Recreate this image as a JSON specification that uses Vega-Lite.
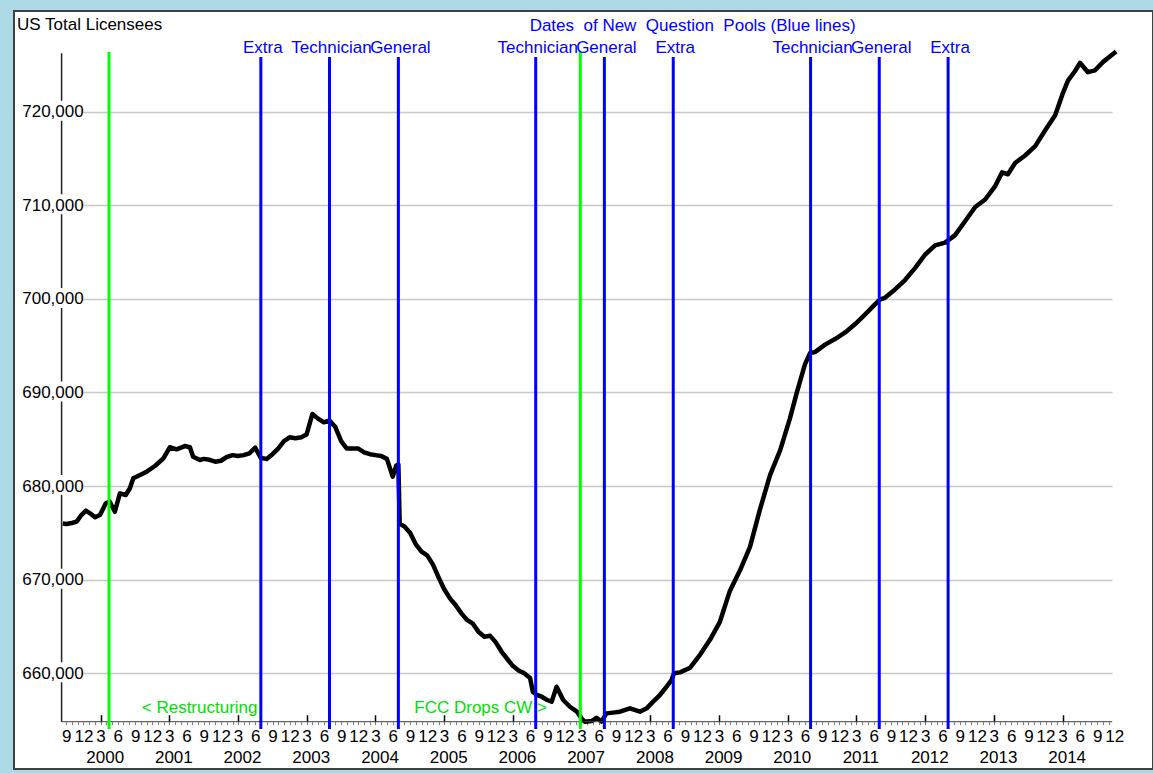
{
  "$schema": "https://vega.github.io/schema/vega-lite/v6.json",
  "width": 1139,
  "height": 758,
  "autosize": {"type": "none"},
  "padding": {"left": 14, "top": 11, "right": 0, "bottom": 4},
  "background": "#add8e6",
  "config": {
    "view": {"fill": "#ffffff", "stroke": "#404040", "strokeWidth": 2},
    "font": "Liberation Sans",
    "axis": {"labelFont": "Liberation Sans", "labelFontSize": 17, "labelColor": "#000000", "domain": false, "grid": false, "title": null}
  },
  "datasets": {
    "licensees": [
      {"date": "1999-08-13", "value": 676000},
      {"date": "1999-09-01", "value": 675950},
      {"date": "1999-10-01", "value": 676050},
      {"date": "1999-10-26", "value": 676200},
      {"date": "1999-11-20", "value": 676900},
      {"date": "1999-12-14", "value": 677370},
      {"date": "2000-01-05", "value": 677090},
      {"date": "2000-02-01", "value": 676660},
      {"date": "2000-02-27", "value": 676900},
      {"date": "2000-03-29", "value": 678160},
      {"date": "2000-04-19", "value": 678330},
      {"date": "2000-05-16", "value": 677260},
      {"date": "2000-06-12", "value": 679220},
      {"date": "2000-07-13", "value": 679040},
      {"date": "2000-08-04", "value": 679760},
      {"date": "2000-08-22", "value": 680830},
      {"date": "2000-09-27", "value": 681180},
      {"date": "2000-11-01", "value": 681530},
      {"date": "2000-12-15", "value": 682140},
      {"date": "2001-01-29", "value": 682960},
      {"date": "2001-03-04", "value": 684140},
      {"date": "2001-04-09", "value": 683920},
      {"date": "2001-05-23", "value": 684270},
      {"date": "2001-06-19", "value": 684140},
      {"date": "2001-07-06", "value": 683130},
      {"date": "2001-08-11", "value": 682780},
      {"date": "2001-09-01", "value": 682900},
      {"date": "2001-10-01", "value": 682800},
      {"date": "2001-11-01", "value": 682600},
      {"date": "2001-12-01", "value": 682700},
      {"date": "2002-01-01", "value": 683100},
      {"date": "2002-02-01", "value": 683300},
      {"date": "2002-03-01", "value": 683200},
      {"date": "2002-04-01", "value": 683300},
      {"date": "2002-05-01", "value": 683500},
      {"date": "2002-06-01", "value": 684100},
      {"date": "2002-07-01", "value": 683000},
      {"date": "2002-08-01", "value": 682900},
      {"date": "2002-09-01", "value": 683400},
      {"date": "2002-10-01", "value": 684000},
      {"date": "2002-11-01", "value": 684800},
      {"date": "2002-12-01", "value": 685200},
      {"date": "2003-01-01", "value": 685100},
      {"date": "2003-02-01", "value": 685200},
      {"date": "2003-03-01", "value": 685500},
      {"date": "2003-04-01", "value": 687700},
      {"date": "2003-05-01", "value": 687200},
      {"date": "2003-06-01", "value": 686800},
      {"date": "2003-07-01", "value": 687000},
      {"date": "2003-08-01", "value": 686300},
      {"date": "2003-09-01", "value": 684800},
      {"date": "2003-10-01", "value": 684000},
      {"date": "2003-11-01", "value": 684000},
      {"date": "2003-12-01", "value": 684000},
      {"date": "2004-01-01", "value": 683600},
      {"date": "2004-02-01", "value": 683400},
      {"date": "2004-03-01", "value": 683300},
      {"date": "2004-04-01", "value": 683200},
      {"date": "2004-05-01", "value": 682900},
      {"date": "2004-06-01", "value": 681000},
      {"date": "2004-06-20", "value": 682200},
      {"date": "2004-07-01", "value": 682300},
      {"date": "2004-07-08", "value": 676000},
      {"date": "2004-08-01", "value": 675700},
      {"date": "2004-09-01", "value": 675000},
      {"date": "2004-10-01", "value": 673800},
      {"date": "2004-11-01", "value": 673000},
      {"date": "2004-12-01", "value": 672600},
      {"date": "2005-01-01", "value": 671600},
      {"date": "2005-02-01", "value": 670200},
      {"date": "2005-03-01", "value": 669000},
      {"date": "2005-04-01", "value": 668000},
      {"date": "2005-05-01", "value": 667300},
      {"date": "2005-06-01", "value": 666400},
      {"date": "2005-07-01", "value": 665700},
      {"date": "2005-08-01", "value": 665300},
      {"date": "2005-09-01", "value": 664400},
      {"date": "2005-10-01", "value": 663900},
      {"date": "2005-11-01", "value": 664000},
      {"date": "2005-12-01", "value": 663300},
      {"date": "2006-01-01", "value": 662300},
      {"date": "2006-02-01", "value": 661500},
      {"date": "2006-03-01", "value": 660800},
      {"date": "2006-04-01", "value": 660300},
      {"date": "2006-05-01", "value": 660000},
      {"date": "2006-06-01", "value": 659500},
      {"date": "2006-06-16", "value": 658000},
      {"date": "2006-07-07", "value": 657700},
      {"date": "2006-08-02", "value": 657500},
      {"date": "2006-08-31", "value": 657150},
      {"date": "2006-09-24", "value": 656970},
      {"date": "2006-10-20", "value": 658570},
      {"date": "2006-11-24", "value": 657150},
      {"date": "2006-12-30", "value": 656430},
      {"date": "2007-02-05", "value": 655900},
      {"date": "2007-03-01", "value": 655200},
      {"date": "2007-03-19", "value": 654830},
      {"date": "2007-04-24", "value": 654900},
      {"date": "2007-05-20", "value": 655250},
      {"date": "2007-06-16", "value": 654850},
      {"date": "2007-07-12", "value": 655720},
      {"date": "2007-08-15", "value": 655800},
      {"date": "2007-09-22", "value": 655900},
      {"date": "2007-11-14", "value": 656260},
      {"date": "2008-01-06", "value": 655900},
      {"date": "2008-02-11", "value": 656260},
      {"date": "2008-03-16", "value": 656970},
      {"date": "2008-04-21", "value": 657680},
      {"date": "2008-05-27", "value": 658570},
      {"date": "2008-06-22", "value": 659280},
      {"date": "2008-07-05", "value": 660000},
      {"date": "2008-08-06", "value": 660100},
      {"date": "2008-09-29", "value": 660600},
      {"date": "2008-11-21", "value": 662000},
      {"date": "2009-01-13", "value": 663600},
      {"date": "2009-03-06", "value": 665500},
      {"date": "2009-04-28", "value": 668800},
      {"date": "2009-06-21", "value": 671000},
      {"date": "2009-08-13", "value": 673500},
      {"date": "2009-10-05", "value": 677500},
      {"date": "2009-11-28", "value": 681200},
      {"date": "2010-01-20", "value": 683800},
      {"date": "2010-03-13", "value": 687200},
      {"date": "2010-04-19", "value": 690000},
      {"date": "2010-06-01", "value": 693000},
      {"date": "2010-06-28", "value": 694200},
      {"date": "2010-07-24", "value": 694300},
      {"date": "2010-09-16", "value": 695100},
      {"date": "2010-11-08", "value": 695700},
      {"date": "2011-01-01", "value": 696400},
      {"date": "2011-02-23", "value": 697300},
      {"date": "2011-04-16", "value": 698300},
      {"date": "2011-06-08", "value": 699400},
      {"date": "2011-07-04", "value": 699900},
      {"date": "2011-07-31", "value": 700100},
      {"date": "2011-09-23", "value": 701000},
      {"date": "2011-11-15", "value": 702000},
      {"date": "2012-01-08", "value": 703300},
      {"date": "2012-02-29", "value": 704700},
      {"date": "2012-04-23", "value": 705700},
      {"date": "2012-06-15", "value": 706000},
      {"date": "2012-08-07", "value": 706800},
      {"date": "2012-09-30", "value": 708300},
      {"date": "2012-11-22", "value": 709800},
      {"date": "2013-01-14", "value": 710600},
      {"date": "2013-03-07", "value": 712000},
      {"date": "2013-04-14", "value": 713500},
      {"date": "2013-05-15", "value": 713300},
      {"date": "2013-06-22", "value": 714500},
      {"date": "2013-08-14", "value": 715300},
      {"date": "2013-10-07", "value": 716300},
      {"date": "2013-11-29", "value": 718000},
      {"date": "2014-01-21", "value": 719600},
      {"date": "2014-02-28", "value": 721800},
      {"date": "2014-03-30", "value": 723300},
      {"date": "2014-05-06", "value": 724300},
      {"date": "2014-06-02", "value": 725200},
      {"date": "2014-07-14", "value": 724200},
      {"date": "2014-08-21", "value": 724400},
      {"date": "2014-10-03", "value": 725300},
      {"date": "2014-12-11", "value": 726400}
    ],
    "pools": [
      {"date": "2002-07-01", "pool": "Extra"},
      {"date": "2003-07-01", "pool": "Technician"},
      {"date": "2004-07-01", "pool": "General"},
      {"date": "2006-07-01", "pool": "Technician"},
      {"date": "2007-07-01", "pool": "General"},
      {"date": "2008-07-01", "pool": "Extra"},
      {"date": "2010-07-01", "pool": "Technician"},
      {"date": "2011-07-01", "pool": "General"},
      {"date": "2012-07-01", "pool": "Extra"}
    ],
    "events": [
      {"date": "2000-04-15", "event": "Restructuring"},
      {"date": "2007-02-23", "event": "FCC Drops CW"}
    ]
  },
  "resolve": {"axis": {"x": "independent", "y": "independent"}},
  "layer": [
    {
      "data": {"name": "licensees"},
      "mark": {"type": "line", "color": "#000000", "strokeWidth": 4.5, "strokeJoin": "round"},
      "encoding": {
        "x": {
          "field": "date", "type": "temporal",
          "scale": {"domain": [{"year": 1998, "month": 11, "date": 27}, {"year": 2015, "month": 6, "date": 25}], "nice": false},
          "axis": {
            "orient": "bottom", "offset": -47.3, "title": null,
            "tickCount": {"interval": "month", "step": 1},
            "ticks": true, "tickSize": 3, "tickColor": "#808080", "tickWidth": 1,
            "tickOpacity": {"condition": {"test": "datum.value < datetime(1999, 7, 15) || datum.value > datetime(2014, 10, 25)", "value": 0}, "value": 1},
            "labelExpr": "(month(datum.value) % 3 == 2) && datum.value > datetime(1999, 7, 15) && datum.value < datetime(2014, 11, 15) ? '' + (month(datum.value) + 1) : ''",
            "labelPadding": 4, "labelOverlap": false, "labelFlush": false, "labelBound": false,
            "domain": false, "grid": false
          }
        },
        "y": {
          "field": "value", "type": "quantitative",
          "scale": {"domain": [649779, 730734], "zero": false, "nice": false},
          "axis": {
            "orient": "left", "title": null,
            "values": [660000, 670000, 680000, 690000, 700000, 710000, 720000],
            "format": ",.0f", "labelPadding": -69.2, "labelAlign": "right", "labelBaseline": "middle",
            "labelOverlap": false, "labelBound": false,
            "ticks": false, "domain": false,
            "grid": true, "gridColor": "#c8c8c8", "gridWidth": 1.5, "gridDash": [0, 69, 1029, 100]
          }
        }
      }
    },
    {
      "data": {"values": [{}]},
      "mark": {"type": "rule", "color": "#404040", "strokeWidth": 1},
      "encoding": {
        "x": {"datum": {"year": 1999, "month": 8, "date": 7}, "type": "temporal", "axis": null},
        "x2": {"datum": {"year": 2014, "month": 11, "date": 20}},
        "y": {"datum": 654831, "type": "quantitative", "axis": null}
      }
    },
    {
      "data": {"values": [{}]},
      "mark": {"type": "rule", "color": "#202020", "strokeWidth": 1.5, "strokeDash": [39.4, 20, 73.6, 20, 73.6, 20, 73.6, 20, 73.6, 20, 73.6, 20, 73.6, 20, 47.5, 50]},
      "encoding": {
        "x": {"datum": {"year": 1999, "month": 8, "date": 7}, "type": "temporal", "axis": null},
        "y": {"datum": 654831, "type": "quantitative", "axis": null},
        "y2": {"datum": 726248}
      }
    },
    {
      "data": {"name": "events"},
      "mark": {"type": "rule", "color": "#00ff00", "strokeWidth": 3},
      "encoding": {
        "x": {
          "field": "date", "type": "temporal",
          "axis": {
            "orient": "bottom", "offset": -47.3, "title": null,
            "values": [
              {"year": 2000, "month": 3, "date": 1}, {"year": 2001, "month": 3, "date": 1}, {"year": 2002, "month": 3, "date": 1},
              {"year": 2003, "month": 3, "date": 1}, {"year": 2004, "month": 3, "date": 1}, {"year": 2005, "month": 3, "date": 1},
              {"year": 2006, "month": 3, "date": 1}, {"year": 2007, "month": 3, "date": 1}, {"year": 2008, "month": 3, "date": 1},
              {"year": 2009, "month": 3, "date": 1}, {"year": 2010, "month": 3, "date": 1}, {"year": 2011, "month": 3, "date": 1},
              {"year": 2012, "month": 3, "date": 1}, {"year": 2013, "month": 3, "date": 1}, {"year": 2014, "month": 3, "date": 1}
            ],
            "ticks": true, "tickSize": -7, "tickWidth": 1.5, "tickColor": "#000000",
            "labels": false, "domain": false, "grid": false
          }
        },
        "y": {"datum": 654050, "type": "quantitative", "axis": null},
        "y2": {"datum": 726360}
      }
    },
    {
      "data": {"name": "pools"},
      "mark": {"type": "rule", "color": "#0000ff", "strokeWidth": 3},
      "encoding": {
        "x": {
          "field": "date", "type": "temporal",
          "axis": {
            "orient": "bottom", "offset": -47.3, "title": null,
            "values": [
              {"year": 2000, "month": 3, "date": 23}, {"year": 2001, "month": 3, "date": 23}, {"year": 2002, "month": 3, "date": 23},
              {"year": 2003, "month": 3, "date": 23}, {"year": 2004, "month": 3, "date": 23}, {"year": 2005, "month": 3, "date": 23},
              {"year": 2006, "month": 3, "date": 23}, {"year": 2007, "month": 3, "date": 23}, {"year": 2008, "month": 3, "date": 23},
              {"year": 2009, "month": 3, "date": 23}, {"year": 2010, "month": 3, "date": 23}, {"year": 2011, "month": 3, "date": 23},
              {"year": 2012, "month": 3, "date": 23}, {"year": 2013, "month": 3, "date": 23}, {"year": 2014, "month": 3, "date": 23}
            ],
            "format": "%Y", "ticks": false, "labelPadding": 27.5, "labelOverlap": false, "labelFlush": false,
            "domain": false, "grid": false
          }
        },
        "y": {"datum": 654050, "type": "quantitative", "axis": null},
        "y2": {"datum": 725825}
      }
    },
    {
      "data": {"name": "pools"},
      "mark": {"type": "text", "color": "#0000ff", "font": "Liberation Sans", "fontSize": 17, "align": "center", "baseline": "middle", "dx": 2},
      "encoding": {
        "x": {"field": "date", "type": "temporal", "axis": null},
        "y": {"datum": 726782, "type": "quantitative", "axis": null},
        "text": {"field": "pool"}
      }
    },
    {
      "data": {"values": [{}]},
      "mark": {"type": "text", "text": "< Restructuring", "color": "#00e000", "font": "Liberation Sans", "fontSize": 17, "align": "left", "baseline": "middle"},
      "encoding": {
        "x": {"datum": {"year": 2000, "month": 10, "date": 6}, "type": "temporal", "axis": null},
        "y": {"datum": 656241, "type": "quantitative", "axis": null}
      }
    },
    {
      "data": {"values": [{}]},
      "mark": {"type": "text", "text": "FCC Drops CW >", "color": "#00e000", "font": "Liberation Sans", "fontSize": 17, "align": "right", "baseline": "middle"},
      "encoding": {
        "x": {"datum": {"year": 2006, "month": 8, "date": 30}, "type": "temporal", "axis": null},
        "y": {"datum": 656241, "type": "quantitative", "axis": null}
      }
    },
    {
      "data": {"values": [{}]},
      "mark": {"type": "text", "text": "US Total Licensees", "color": "#000000", "font": "Liberation Sans", "fontSize": 17, "align": "left", "baseline": "middle"},
      "encoding": {
        "x": {"datum": {"year": 1998, "month": 12, "date": 13}, "type": "temporal", "axis": null},
        "y": {"datum": 729292, "type": "quantitative", "axis": null}
      }
    },
    {
      "data": {"values": [{}]},
      "mark": {"type": "text", "text": "Dates\u00a0 of New\u00a0 Question\u00a0 Pools (Blue lines)", "color": "#0000ff", "font": "Liberation Sans", "fontSize": 17, "align": "center", "baseline": "middle"},
      "encoding": {
        "x": {"datum": {"year": 2008, "month": 10, "date": 12}, "type": "temporal", "axis": null},
        "y": {"datum": 729110, "type": "quantitative", "axis": null}
      }
    }
  ]
}
